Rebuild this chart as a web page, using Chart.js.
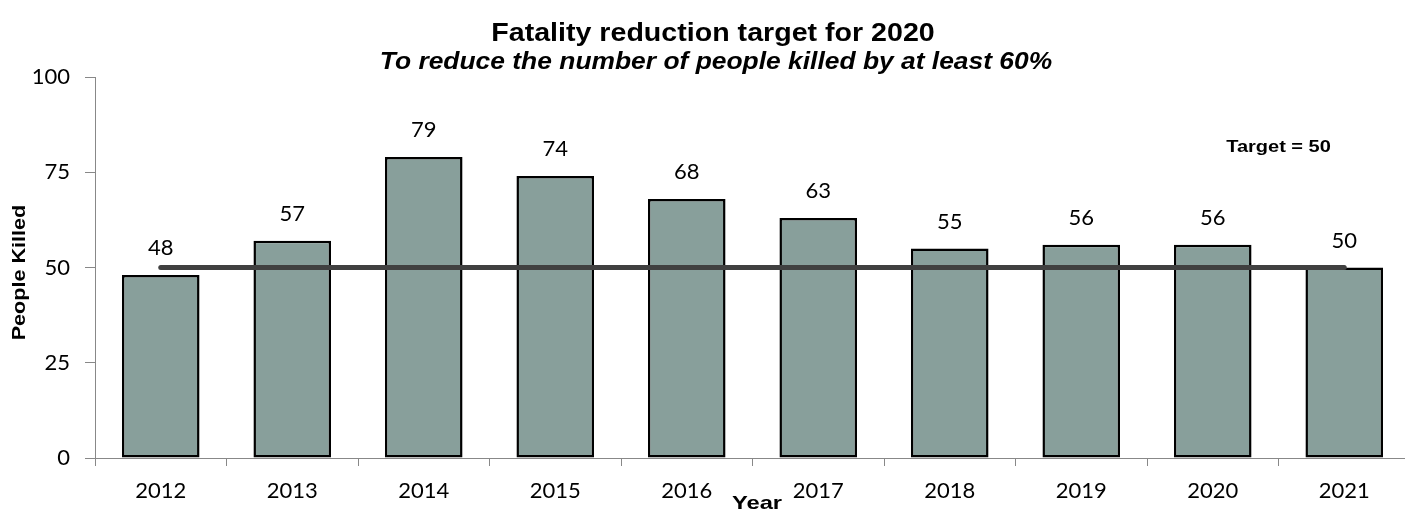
<!DOCTYPE html>
<html>
<head>
<meta charset="utf-8">
<script src="https://cdn.jsdelivr.net/npm/chart.js@4/dist/chart.umd.min.js"></script>
<style>
  body { margin: 0; background: #fff; overflow: hidden; }
  #wrap { width: 1410px; height: 510px; position: relative; }
</style>
</head>
<body>
<div id="wrap"><canvas id="fatalChart"></canvas></div>
<script>
const years = ['2012', '2013', '2014', '2015', '2016', '2017', '2018', '2019', '2020', '2021'];
const killed = [48, 57, 79, 74, 68, 63, 55, 56, 56, 50];
const target = [50, 50, 50, 50, 50, 50, 50, 50, 50, 50];
const yTicks = [0, 25, 50, 75, 100];

const numFont = 'Lato';
const arial = '"Liberation Sans", Arial';

// the exported chart has its Arial text a little wider than normal
function wideText(c, txt, x, y, sx, rot) {
  c.save();
  c.translate(x, y);
  if (rot) c.rotate(rot);
  c.scale(sx, 1);
  c.fillText(txt, 0, 0);
  c.restore();
}

// value labels, titles and the "Target = 50" note
const extraText = {
  id: 'extraText',
  afterDatasetsDraw(chart) {
    const c = chart.ctx;
    const meta = chart.getDatasetMeta(0);
    c.save();
    c.fillStyle = '#000';
    c.textAlign = 'center';
    c.textBaseline = 'middle';
    c.font = '22px ' + numFont;
    meta.data.forEach((bar, i) => {
      c.fillText(String(killed[i]), bar.x, bar.y - 27);
    });

    c.font = 'bold 16px ' + arial;
    wideText(c, 'Target = 50', chart.scales.x.getPixelForValue(8.5), chart.scales.y.getPixelForValue(81.5), 1.25);

    c.font = 'bold 26px ' + arial;
    wideText(c, 'Fatality reduction target for 2020', 713, 34, 1.1);
    c.font = 'italic bold 24px ' + arial;
    wideText(c, 'To reduce the number of people killed by at least 60%', 716, 62, 1.1);

    c.font = 'bold 18px ' + arial;
    wideText(c, 'People Killed', 20, (chart.chartArea.top + chart.chartArea.bottom) / 2 + 5, 1.2, -Math.PI / 2);

    c.textBaseline = 'alphabetic';
    c.font = 'bold 19px ' + arial;
    wideText(c, 'Year', 757, 509, 1.25);
    c.restore();
  }
};

new Chart(document.getElementById('fatalChart'), {
  type: 'bar',
  data: {
    labels: years,
    datasets: [{
      type: 'bar',
      data: killed,
      backgroundColor: '#889f9b',
      borderColor: '#000',
      borderWidth: 2.5,
      borderSkipped: false,
      categoryPercentage: 1,
      barPercentage: 0.59,
      order: 2
    }, {
      type: 'line',
      data: target,
      borderColor: '#404040',
      borderWidth: 5,
      borderCapStyle: 'round',
      pointRadius: 0,
      fill: false,
      order: 1
    }]
  },
  options: {
    responsive: true,
    maintainAspectRatio: false,
    animation: false,
    layout: { padding: { top: 77, right: 0, left: 0, bottom: 0 } },
    plugins: {
      legend: { display: false },
      tooltip: { enabled: false }
    },
    scales: {
      x: {
        afterFit: s => { s.height = 52; },
        grid: { display: true, drawOnChartArea: false, offset: true, tickLength: 8, color: '#888' },
        border: { color: '#888', width: 1 },
        ticks: { color: '#000', font: { family: numFont, size: 22 }, padding: 12, maxRotation: 0 },
        title: { display: false }
      },
      y: {
        min: 0,
        max: 100,
        afterFit: s => { s.width = 95; },
        afterBuildTicks: s => { s.ticks = yTicks.map(v => ({ value: v })); },
        grid: { drawOnChartArea: false, tickLength: 10, color: '#888' },
        border: { color: '#888', width: 1 },
        ticks: { color: '#000', font: { family: numFont, size: 22 }, padding: 15 },
        title: { display: false }
      }
    }
  },
  plugins: [extraText]
});
</script>
</body>
</html>
